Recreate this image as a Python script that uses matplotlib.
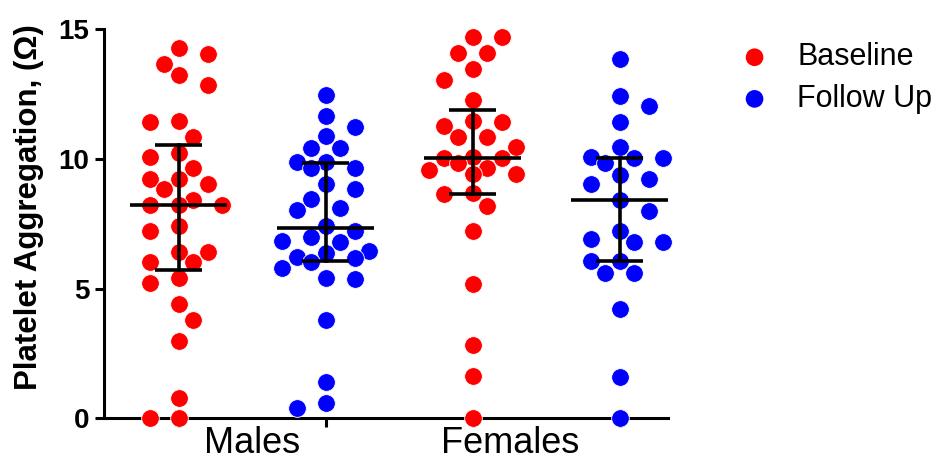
import numpy as np
import matplotlib
matplotlib.use("Agg")
import matplotlib.pyplot as plt

plt.rcParams['font.family'] = ['Liberation Sans', 'DejaVu Sans']

# Platelet aggregation (Ohm) per subject
male_baseline = [14.27, 14.05, 13.66, 13.24, 12.85, 11.48, 11.44, 10.86, 10.22, 10.09,
                 9.64, 9.22, 9.22, 9.04, 8.83, 8.42, 8.23, 8.23, 8.23, 7.42,
                 7.22, 6.43, 6.43, 6.04, 6.04, 5.40, 5.21, 4.41, 3.79, 2.99,
                 0.77, 0.0, 0.0]
male_followup = [12.47, 11.66, 11.25, 10.89, 10.41, 10.41, 9.90, 9.90, 9.64, 9.64,
                 9.04, 8.83, 8.45, 8.10, 8.03, 7.42, 7.24, 7.00, 6.85, 6.81,
                 6.46, 6.39, 6.21, 6.17, 6.04, 5.78, 5.40, 5.36, 3.79, 1.41,
                 0.58, 0.39]
female_baseline = [14.69, 14.69, 14.08, 14.08, 13.46, 13.05, 12.28, 11.48, 11.44, 11.27,
                   10.86, 10.84, 10.47, 10.07, 10.03, 10.03, 9.83, 9.64, 9.58, 9.42,
                   9.42, 8.68, 8.65, 8.19, 7.24, 5.18, 2.83, 1.63, 0.0]
female_followup = [13.84, 12.43, 12.04, 11.44, 10.45, 10.07, 10.03, 10.03, 9.83, 9.38,
                   9.22, 9.04, 8.42, 8.01, 7.24, 6.90, 6.81, 6.81, 6.08, 6.08,
                   5.59, 5.59, 4.20, 1.58, 0.0]

series_names = ["Baseline", "Follow Up"]
series_colors = ["#FF0000", "#0000FF"]
group_names = ["Males", "Females"]
y_ticks = [0, 5, 10, 15]

columns = [(male_baseline, 0), (male_followup, 1), (female_baseline, 0), (female_followup, 1)]

W, H = 940, 467
fig = plt.figure(figsize=(W / 100, H / 100), dpi=100)
ax_left, ax_right, ax_bottom, ax_top = 104, 668, 418.3, 29.3
ax = fig.add_axes([ax_left / W, 1 - ax_bottom / H, (ax_right - ax_left) / W, (ax_bottom - ax_top) / H])
xlim = (-0.51, 3.327)
ylim = (0, 15)
ax.set_xlim(*xlim)
ax.set_ylim(*ylim)

px_per_x = (ax_right - ax_left) / (xlim[1] - xlim[0])
px_per_y = (ax_bottom - ax_top) / (ylim[1] - ylim[0])


def swarm_offsets(values, grid_px=14.5, diam_px=18.0, max_steps=3):
    """Grid beeswarm: points (largest first) take the nearest free slot on a horizontal grid;
    if none is free within max_steps, the slot with the least overlap is used."""
    order = np.argsort(values, kind="stable")[::-1]
    placed = []
    offsets = np.zeros(len(values))
    flip = 1
    for i in order:
        y = values[i] * px_per_y
        slots = [0.0]
        for k in range(1, max_steps + 1):
            slots += [flip * k * grid_px, -flip * k * grid_px]
        chosen, best_gap = None, -np.inf
        for x in slots:
            gap = min([np.hypot(x - px, y - py) for (px, py) in placed] + [np.inf])
            if gap >= diam_px:
                chosen = x
                break
            if gap > best_gap:
                best_gap, best_x = gap, x
        if chosen is None:
            chosen = best_x
        if chosen != 0:
            flip = -int(np.sign(chosen))
        placed.append((chosen, y))
        offsets[i] = chosen
    return offsets / px_per_x


marker_s = 162
handles = []
for pos, (vals, s_idx) in enumerate(columns):
    vals = np.asarray(vals, dtype=float)
    xs = pos + swarm_offsets(vals)
    sc = ax.scatter(xs, vals, s=marker_s, color=series_colors[s_idx], edgecolors="white",
                    linewidths=0.6, zorder=3, clip_on=False)
    if pos < 2:
        handles.append(sc)
    q1, med, q3 = np.percentile(vals, [25, 50, 75], method="weibull")
    lw = 2.6
    ax.plot([pos - 0.33, pos + 0.33], [med, med], color="black", lw=lw, zorder=4,
            solid_capstyle="butt")
    ax.plot([pos, pos], [q1, q3], color="black", lw=lw, zorder=4)
    for q in (q1, q3):
        ax.plot([pos - 0.16, pos + 0.16], [q, q], color="black", lw=lw, zorder=4,
                solid_capstyle="butt")

for side in ("top", "right"):
    ax.spines[side].set_visible(False)
for side in ("left", "bottom"):
    ax.spines[side].set_linewidth(2.2)
    ax.spines[side].set_zorder(2.5)

ax.set_yticks(y_ticks)
ax.set_yticklabels([str(t) for t in y_ticks], fontsize=20, fontweight="bold")
ax.tick_params(axis="y", length=6.5, width=2.2, pad=4)
ax.set_xticks([0, 1, 2, 3])
ax.set_xticklabels([])
ax.tick_params(axis="x", length=6.5, width=2.2)

# group labels under the axis
ax.text(0.5, -0.02, group_names[0], fontsize=26, ha="center", va="top",
        transform=ax.get_xaxis_transform())
ax.text(2.25, -0.02, group_names[1], fontsize=26, ha="center", va="top",
        transform=ax.get_xaxis_transform())

fig.text(29 / W, 1 - 207 / H, "Platelet Aggregation, (Ω)", rotation=90, fontsize=22.5,
         fontweight="bold", ha="center", va="center")

leg = fig.legend(handles, series_names, loc="upper left",
                 bbox_to_anchor=(724 / W, 1 - 27 / H), frameon=False, fontsize=22,
                 handletextpad=0.9, labelspacing=0.38, markerscale=1.0,
                 handlelength=1.0, borderpad=0)
for h in leg.legend_handles:
    h.set_edgecolor("none")

fig.savefig("out.png", dpi=100)
